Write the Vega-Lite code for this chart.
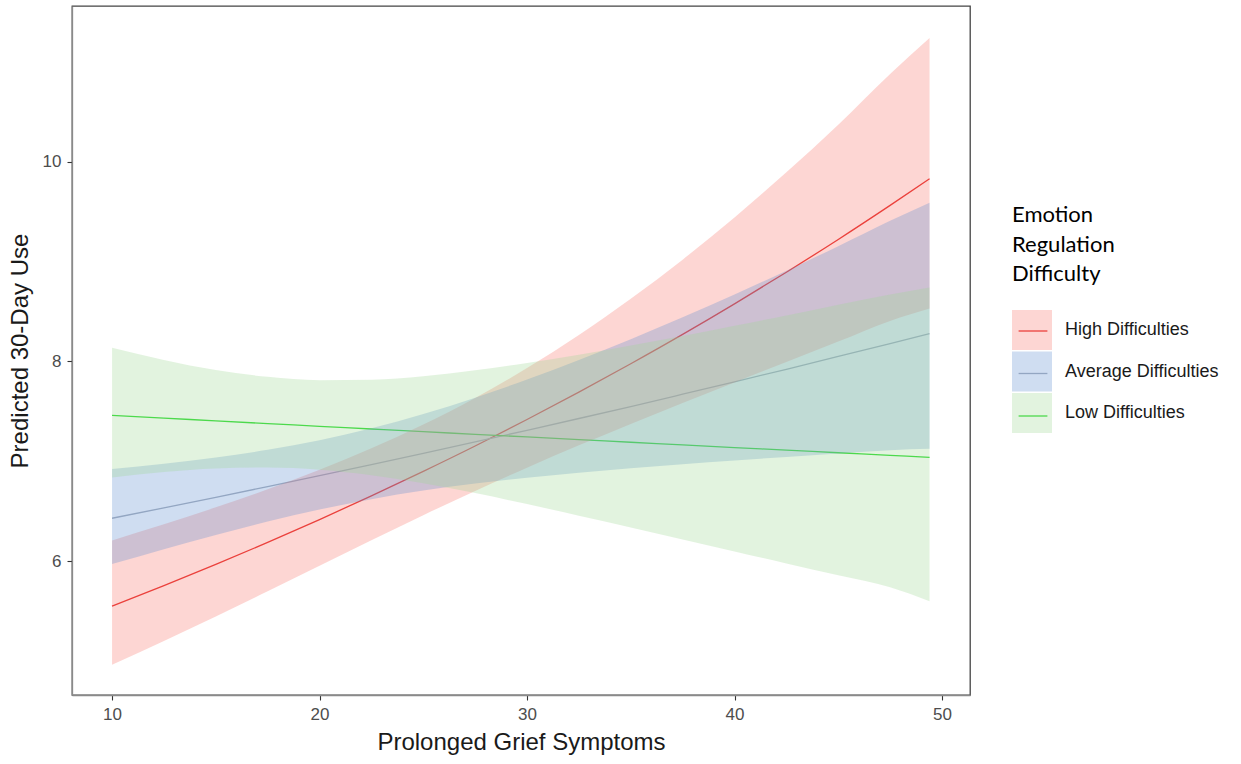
{
  "$schema": "https://vega.github.io/schema/vega-lite/v6.json",
  "width": 898,
  "height": 689,
  "autosize": {"type": "none"},
  "padding": {"left": 72, "top": 6, "right": 271, "bottom": 69},
  "background": "white",
  "config": {
    "view": {"stroke": "#444444", "strokeWidth": 1.3},
    "axis": {
      "grid": false,
      "labelFont": "Liberation Sans",
      "labelFontSize": 17,
      "labelColor": "#4d4d4d",
      "tickColor": "#333333",
      "tickSize": 5,
      "tickWidth": 1.1,
      "domainColor": "#8a8a8a",
      "domainWidth": 1.3,
      "titleFont": "Liberation Sans",
      "titleFontSize": 24,
      "titleFontWeight": "normal",
      "titleColor": "#1a1a1a",
      "labelPadding": 6
    }
  },
  "data": {
    "values": [
      {"g": "High Difficulties", "x": 10, "fit": 5.55, "lo": 4.962, "hi": 6.208},
      {"g": "High Difficulties", "x": 12.5, "fit": 5.755, "lo": 5.201, "hi": 6.369},
      {"g": "High Difficulties", "x": 15, "fit": 5.968, "lo": 5.447, "hi": 6.539},
      {"g": "High Difficulties", "x": 17.5, "fit": 6.188, "lo": 5.698, "hi": 6.72},
      {"g": "High Difficulties", "x": 20, "fit": 6.417, "lo": 5.954, "hi": 6.916},
      {"g": "High Difficulties", "x": 22.5, "fit": 6.654, "lo": 6.209, "hi": 7.131},
      {"g": "High Difficulties", "x": 25, "fit": 6.9, "lo": 6.461, "hi": 7.369},
      {"g": "High Difficulties", "x": 27.5, "fit": 7.154, "lo": 6.703, "hi": 7.635},
      {"g": "High Difficulties", "x": 30, "fit": 7.419, "lo": 6.937, "hi": 7.934},
      {"g": "High Difficulties", "x": 32.5, "fit": 7.693, "lo": 7.16, "hi": 8.265},
      {"g": "High Difficulties", "x": 35, "fit": 7.977, "lo": 7.375, "hi": 8.628},
      {"g": "High Difficulties", "x": 37.5, "fit": 8.271, "lo": 7.584, "hi": 9.02},
      {"g": "High Difficulties", "x": 40, "fit": 8.577, "lo": 7.79, "hi": 9.443},
      {"g": "High Difficulties", "x": 42.5, "fit": 8.894, "lo": 7.995, "hi": 9.894},
      {"g": "High Difficulties", "x": 45, "fit": 9.222, "lo": 8.199, "hi": 10.372},
      {"g": "High Difficulties", "x": 47.5, "fit": 9.563, "lo": 8.406, "hi": 10.88},
      {"g": "High Difficulties", "x": 49.4, "fit": 9.83, "lo": 8.53, "hi": 11.24},
      {"g": "Average Difficulties", "x": 10, "fit": 6.43, "lo": 5.971, "hi": 6.924},
      {"g": "Average Difficulties", "x": 12.5, "fit": 6.534, "lo": 6.12, "hi": 6.976},
      {"g": "Average Difficulties", "x": 15, "fit": 6.64, "lo": 6.263, "hi": 7.039},
      {"g": "Average Difficulties", "x": 17.5, "fit": 6.747, "lo": 6.397, "hi": 7.116},
      {"g": "Average Difficulties", "x": 20, "fit": 6.856, "lo": 6.518, "hi": 7.212},
      {"g": "Average Difficulties", "x": 22.5, "fit": 6.967, "lo": 6.621, "hi": 7.331},
      {"g": "Average Difficulties", "x": 25, "fit": 7.08, "lo": 6.707, "hi": 7.473},
      {"g": "Average Difficulties", "x": 27.5, "fit": 7.195, "lo": 6.778, "hi": 7.638},
      {"g": "Average Difficulties", "x": 30, "fit": 7.311, "lo": 6.836, "hi": 7.819},
      {"g": "Average Difficulties", "x": 32.5, "fit": 7.429, "lo": 6.886, "hi": 8.015},
      {"g": "Average Difficulties", "x": 35, "fit": 7.549, "lo": 6.931, "hi": 8.223},
      {"g": "Average Difficulties", "x": 37.5, "fit": 7.672, "lo": 6.972, "hi": 8.443},
      {"g": "Average Difficulties", "x": 40, "fit": 7.796, "lo": 7.009, "hi": 8.671},
      {"g": "Average Difficulties", "x": 42.5, "fit": 7.922, "lo": 7.044, "hi": 8.909},
      {"g": "Average Difficulties", "x": 45, "fit": 8.05, "lo": 7.078, "hi": 9.155},
      {"g": "Average Difficulties", "x": 47.5, "fit": 8.18, "lo": 7.111, "hi": 9.41},
      {"g": "Average Difficulties", "x": 49.4, "fit": 8.28, "lo": 7.125, "hi": 9.59},
      {"g": "Low Difficulties", "x": 10, "fit": 7.46, "lo": 6.839, "hi": 8.138},
      {"g": "Low Difficulties", "x": 12.5, "fit": 7.433, "lo": 6.893, "hi": 8.016},
      {"g": "Low Difficulties", "x": 15, "fit": 7.405, "lo": 6.928, "hi": 7.915},
      {"g": "Low Difficulties", "x": 17.5, "fit": 7.378, "lo": 6.938, "hi": 7.846},
      {"g": "Low Difficulties", "x": 20, "fit": 7.351, "lo": 6.916, "hi": 7.813},
      {"g": "Low Difficulties", "x": 22.5, "fit": 7.324, "lo": 6.861, "hi": 7.818},
      {"g": "Low Difficulties", "x": 25, "fit": 7.297, "lo": 6.78, "hi": 7.853},
      {"g": "Low Difficulties", "x": 27.5, "fit": 7.271, "lo": 6.682, "hi": 7.912},
      {"g": "Low Difficulties", "x": 30, "fit": 7.244, "lo": 6.572, "hi": 7.985},
      {"g": "Low Difficulties", "x": 32.5, "fit": 7.217, "lo": 6.456, "hi": 8.068},
      {"g": "Low Difficulties", "x": 35, "fit": 7.191, "lo": 6.338, "hi": 8.159},
      {"g": "Low Difficulties", "x": 37.5, "fit": 7.164, "lo": 6.217, "hi": 8.255},
      {"g": "Low Difficulties", "x": 40, "fit": 7.138, "lo": 6.097, "hi": 8.357},
      {"g": "Low Difficulties", "x": 42.5, "fit": 7.112, "lo": 5.978, "hi": 8.461},
      {"g": "Low Difficulties", "x": 45, "fit": 7.086, "lo": 5.859, "hi": 8.569},
      {"g": "Low Difficulties", "x": 47.5, "fit": 7.06, "lo": 5.74, "hi": 8.67},
      {"g": "Low Difficulties", "x": 49.4, "fit": 7.04, "lo": 5.6, "hi": 8.74}
    ]
  },
  "encoding": {
    "x": {
      "field": "x",
      "type": "quantitative",
      "title": "Prolonged Grief Symptoms",
      "scale": {"domain": [8.07, 51.35], "nice": false, "zero": false},
      "axis": {"values": [10, 20, 30, 40, 50], "format": "d", "titlePadding": 8}
    }
  },
  "layer": [
    {
      "mark": {"type": "line", "strokeWidth": 1.3, "interpolate": "monotone"},
      "encoding": {
        "y": {
          "field": "fit",
          "type": "quantitative",
          "title": "Predicted 30-Day Use",
          "scale": {"domain": [4.66, 11.56], "nice": false, "zero": false},
          "axis": {"values": [6, 8, 10], "format": "d", "titlePadding": 10}
        },
        "stroke": {
          "field": "g",
          "type": "nominal",
          "sort": ["High Difficulties", "Average Difficulties", "Low Difficulties"],
          "scale": {"range": ["#E52A27", "#A9B0BC", "#29DA2D"]},
          "legend": {
            "orient": "none",
            "legendX": 940,
            "legendY": 199,
            "padding": 0,
            "title": [" ", " ", " "],
            "titleFont": "Lato",
            "titleFontSize": 22,
            "titleFontWeight": "normal",
            "titleColor": "transparent",
            "titleLineHeight": 29.5,
            "titlePadding": 24,
            "symbolType": "M-0.72,0H0.72",
            "symbolSize": 1600,
            "symbolStrokeWidth": 1.3,
            "labelFont": "Liberation Sans",
            "labelFontSize": 18,
            "labelExpr": "''",
            "labelOffset": 13,
            "rowPadding": 12.5
          }
        }
      }
    },
    {
      "transform": [{"filter": "datum.g === 'High Difficulties'"}],
      "mark": {"type": "area", "fillOpacity": 0.3, "interpolate": "monotone"},
      "encoding": {
        "y": {"field": "lo", "type": "quantitative"},
        "y2": {"field": "hi"},
        "fill": {
          "field": "g",
          "type": "nominal",
          "scale": {
            "domain": ["High Difficulties", "Average Difficulties", "Low Difficulties"],
            "range": ["#F8766D", "#5F8ED0", "#9ED794"]
          },
          "legend": {
            "orient": "none",
            "legendX": 940,
            "legendY": 199,
            "padding": 0,
            "title": ["Emotion", "Regulation", "Difficulty"],
            "titleFont": "Lato",
            "titleFontSize": 22,
            "titleFontWeight": "normal",
            "titleColor": "#000000",
            "titleLineHeight": 29.5,
            "titlePadding": 24,
            "symbolType": "square",
            "symbolSize": 1600,
            "symbolOpacity": 0.3,
            "symbolStrokeWidth": 0,
            "labelFont": "Liberation Sans",
            "labelFontSize": 18,
            "labelColor": "#1a1a1a",
            "labelOffset": 13,
            "rowPadding": 1.5
          }
        }
      }
    },
    {
      "transform": [{"filter": "datum.g === 'Average Difficulties'"}],
      "mark": {"type": "area", "fillOpacity": 0.3, "interpolate": "monotone"},
      "encoding": {
        "y": {"field": "lo", "type": "quantitative"},
        "y2": {"field": "hi"},
        "fill": {"field": "g", "type": "nominal"}
      }
    },
    {
      "transform": [{"filter": "datum.g === 'Low Difficulties'"}],
      "mark": {"type": "area", "fillOpacity": 0.3, "interpolate": "monotone"},
      "encoding": {
        "y": {"field": "lo", "type": "quantitative"},
        "y2": {"field": "hi"},
        "fill": {"field": "g", "type": "nominal"}
      }
    }
  ]
}
